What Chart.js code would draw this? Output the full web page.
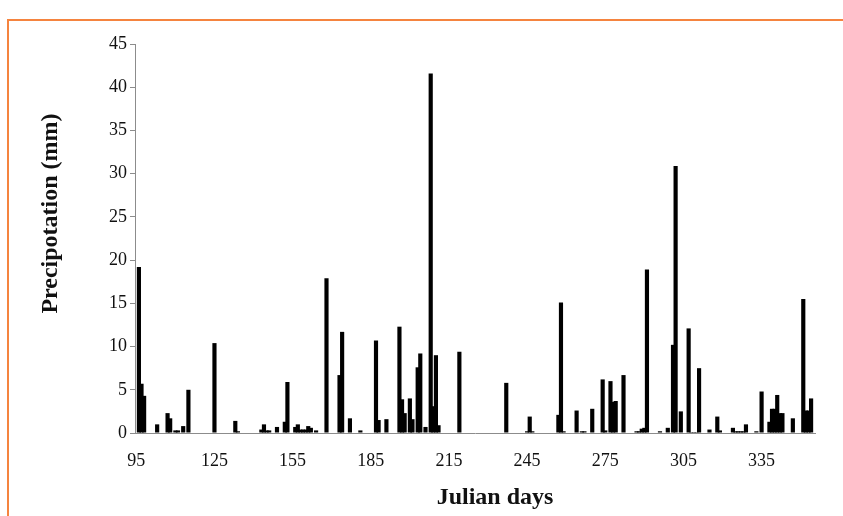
<!DOCTYPE html>
<html>
<head>
<meta charset="utf-8">
<script src="https://cdn.jsdelivr.net/npm/chart.js@4.4.1/dist/chart.umd.min.js"></script>
<style>
  html, body { margin: 0; padding: 0; background: #ffffff; }
  #wrap { position: relative; width: 843px; height: 516px; overflow: hidden; background: #fff; }
  #frame { position: absolute; left: 7px; top: 19px; width: 840px; height: 500px;
           border-top: 2px solid #f5843f; border-left: 2px solid #f5843f; }
  #c { position: absolute; left: 0; top: 0; }
</style>
</head>
<body>
<div id="wrap">
  <div id="frame"></div>
  <canvas id="c" width="843" height="516"></canvas>
</div>
<script>
// ---- Data ----
const firstDay = 95;
const lastDay = 355;
const xTickLabels = [95, 125, 155, 185, 215, 245, 275, 305, 335];
const yTicks = [0, 5, 10, 15, 20, 25, 30, 35, 40, 45];

// Days with recorded precipitation and the amount (mm)
const rainDays = [96, 97, 98, 103, 107, 108, 110, 111, 113, 115, 125, 133, 134,
  143, 144, 145, 146, 149, 152, 153, 156, 157, 158, 159, 160, 161, 162, 164,
  168, 173, 174, 177, 181, 187, 188, 191, 196, 197, 198, 200, 201, 203, 204,
  206, 208, 209, 210, 211, 219, 237, 245, 246, 247, 257, 258, 259, 264, 266,
  267, 270, 274, 275, 277, 278, 279, 282, 287, 288, 289, 290, 291, 296, 299,
  301, 302, 304, 307, 308, 309, 310, 311, 315, 318, 319, 324, 325, 326, 327,
  328, 329, 333, 335, 338, 339, 340, 341, 342, 343, 347, 351, 352, 353, 354];
const rainMm = [19.2, 5.7, 4.3, 1.0, 2.3, 1.7, 0.3, 0.3, 0.8, 5.0, 10.4, 1.4, 0.2,
  0.4, 1.0, 0.3, 0.3, 0.7, 1.3, 5.9, 0.7, 1.0, 0.4, 0.4, 0.4, 0.8, 0.6, 0.3,
  17.9, 6.7, 11.7, 1.7, 0.3, 10.7, 1.5, 1.6, 12.3, 3.9, 2.3, 4.0, 1.6, 7.6, 9.2,
  0.7, 41.6, 3.1, 9.0, 0.9, 9.4, 5.8, 0.2, 1.9, 0.2, 2.1, 15.1, 0.2, 2.6, 0.2,
  0.2, 2.8, 6.2, 0.3, 6.0, 3.6, 3.7, 6.7, 0.2, 0.2, 0.5, 0.6, 18.9, 0.2, 0.6,
  10.2, 30.9, 2.5, 12.1, 0.1, 0.1, 0.1, 7.5, 0.4, 1.9, 0.3, 0.6, 0.2, 0.2, 0.2,
  0.2, 1.0, 0.2, 4.8, 1.3, 2.8, 2.8, 4.4, 2.3, 2.3, 1.7, 15.5, 2.6, 2.6, 4.0];

// ---- Build the daily category series ----
const days = [];
for (let d = firstDay; d <= lastDay; d++) days.push(d);
const precip = days.map(d => {
  const i = rainDays.indexOf(d);
  return i >= 0 ? rainMm[i] : 0;
});

const serif = "'Liberation Serif', 'Times New Roman', serif";

// Nudge the axis titles to where the reference places them
const titleShift = {
  id: 'titleShift',
  beforeDraw(chart) {
    const shifts = { x: [20, 2], y: [1, -25] };
    Object.keys(shifts).forEach(id => {
      const s = chart.scales[id];
      if (!s || s._shifted) return;
      const orig = s.drawTitle;
      const [dx, dy] = shifts[id];
      s.drawTitle = function () {
        const ctx = this.ctx;
        ctx.save();
        ctx.translate(dx, dy);
        orig.call(this);
        ctx.restore();
      };
      s._shifted = true;
    });
  }
};

new Chart(document.getElementById('c'), {
  type: 'bar',
  data: {
    labels: days.map(String),
    datasets: [{
      data: precip,
      backgroundColor: '#000000',
      borderWidth: 0,
      barPercentage: 1.6,
      categoryPercentage: 1.0
    }]
  },
  plugins: [titleShift],
  options: {
    responsive: false,
    animation: false,
    events: [],
    layout: { padding: { left: 0, top: 44, right: 28, bottom: 0 } },
    plugins: { legend: { display: false }, tooltip: { enabled: false } },
    scales: {
      x: {
        type: 'category',
        afterFit: s => { s.height = 83; },
        grid: { display: true, drawOnChartArea: false, drawTicks: false },
        border: { display: true, color: '#8c8c8c', width: 1 },
        ticks: {
          autoSkip: false, maxRotation: 0, minRotation: 0, padding: 17,
          color: '#111',
          font: { family: serif, size: 18 },
          callback: function (v, i) {
            return xTickLabels.includes(days[i]) ? String(days[i]) : '';
          }
        },
        title: {
          display: true, text: 'Julian days', color: '#111',
          font: { family: serif, size: 24, weight: 'bold' },
          padding: { top: 0, bottom: 6 }
        }
      },
      y: {
        min: 0, max: 45,
        afterFit: s => { s.width = 135; },
        afterBuildTicks: s => { s.ticks = yTicks.map(v => ({ value: v })); },
        grid: { display: true, drawOnChartArea: false, drawTicks: true, tickLength: 5, color: '#8c8c8c' },
        border: { display: true, color: '#8c8c8c', width: 1 },
        ticks: {
          padding: 3, color: '#111',
          font: { family: serif, size: 18 }
        },
        title: {
          display: true, text: 'Precipotation (mm)', color: '#111',
          font: { family: serif, size: 24, weight: 'bold' },
          padding: { top: 35, bottom: 0 }
        }
      }
    }
  }
});
</script>
</body>
</html>
